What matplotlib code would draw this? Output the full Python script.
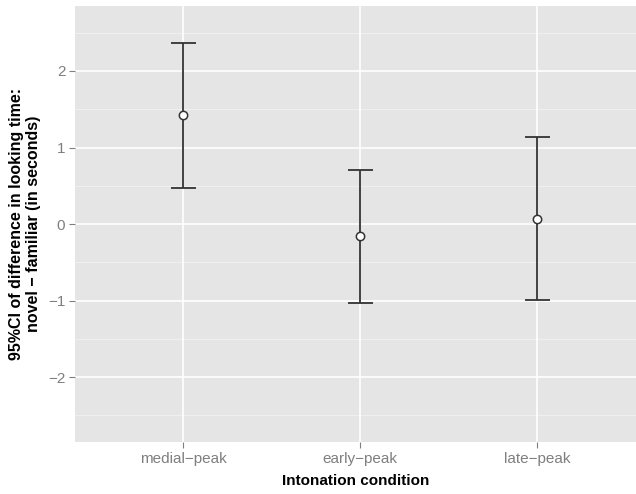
import numpy as np
import matplotlib.pyplot as plt

# 95% CI of looking-time difference per intonation condition
conditions = ['medial\u2212peak', 'early\u2212peak', 'late\u2212peak']
mean_diff = [1.42, -0.16, 0.07]
ci_low = [0.47, -1.03, -0.99]
ci_high = [2.36, 0.70, 1.14]

plt.rcParams['font.family'] = ['Liberation Sans', 'DejaVu Sans']

fig = plt.figure(figsize=(6.36, 4.94), dpi=100)
ax = fig.add_axes([0.118, 0.105, 0.882, 0.883])
ax.set_facecolor('#e5e5e5')

x = np.arange(len(conditions))
mean_diff = np.array(mean_diff)
yerr = np.vstack([mean_diff - np.array(ci_low), np.array(ci_high) - mean_diff])

# grid, ggplot style
for yv in [-2.5, -1.5, -0.5, 0.5, 1.5, 2.5]:
    ax.axhline(yv, color='#f2f2f2', lw=0.6, zorder=0)
for yv in [-2, -1, 0, 1, 2]:
    ax.axhline(yv, color='white', lw=1.2, zorder=0)
for xv in x:
    ax.axvline(xv, color='white', lw=1.2, zorder=0)

ax.errorbar(x, mean_diff, yerr=yerr, fmt='none', ecolor='#333333',
            elinewidth=1.3, capsize=9, capthick=1.3, zorder=2)
ax.scatter(x, mean_diff, s=36, facecolor='white', edgecolor='#333333',
           linewidth=1.1, zorder=3)

ax.set_xlim(-0.61, 2.56)
ax.set_ylim(-2.85, 2.85)
ax.set_xticks(x)
ax.set_xticklabels(conditions)
ax.set_yticks([-2, -1, 0, 1, 2])
ax.set_yticklabels(['\u22122', '\u22121', '0', '1', '2'])

for s in ax.spines.values():
    s.set_visible(False)
ax.tick_params(colors='#7f7f7f', labelcolor='#7f7f7f', labelsize=11,
               length=4, width=0.8, pad=3)

ax.set_xlabel('Intonation condition', fontsize=11, fontweight='bold',
              labelpad=6)
ax.set_ylabel('95%CI of difference in looking time:\nnovel \u2212 familiar (in seconds)',
              fontsize=11.5, fontweight='bold', labelpad=5, linespacing=1.15)

fig.savefig('out.png', dpi=100)
